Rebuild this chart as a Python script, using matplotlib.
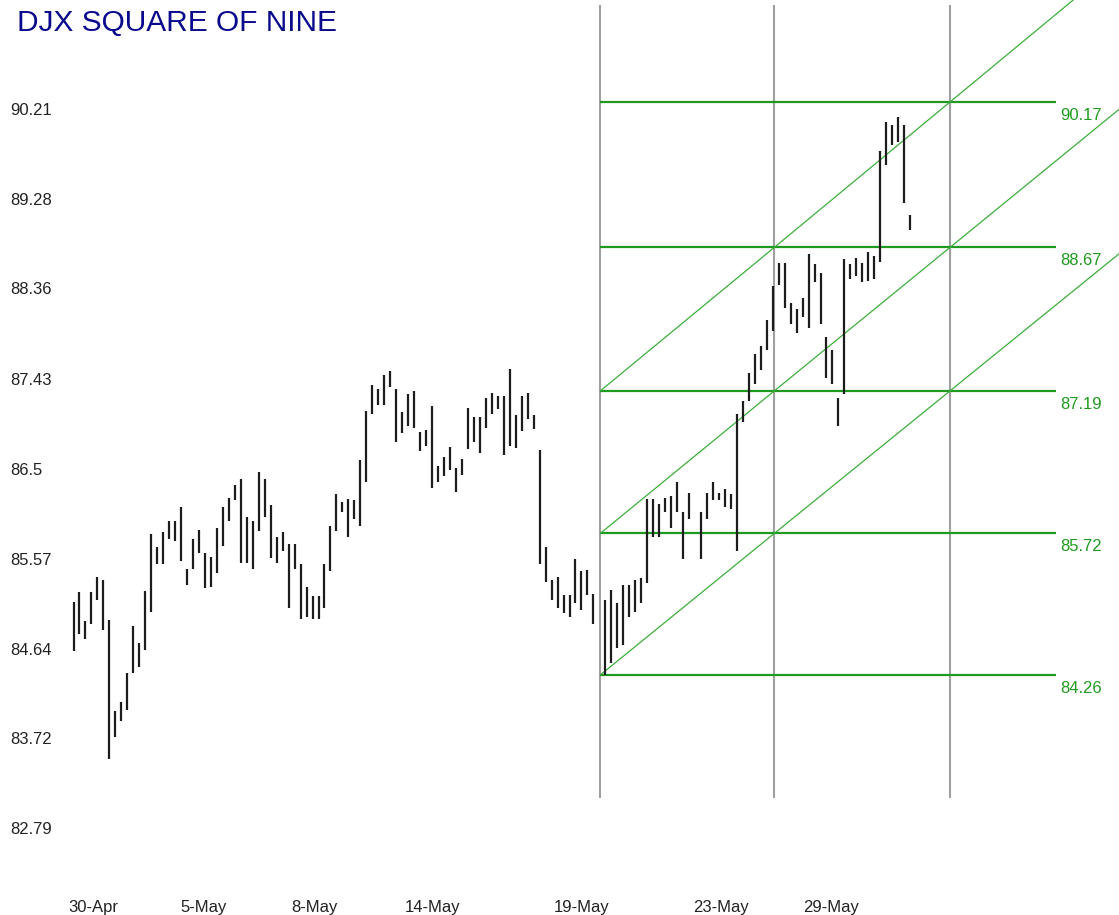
import numpy as np
import matplotlib
matplotlib.use("Agg")
import matplotlib.pyplot as plt
import matplotlib.transforms as mtransforms

plt.rcParams['font.family'] = ['Liberation Sans', 'DejaVu Sans']

# bar highs / lows (nan = no bar drawn)
nan = np.nan
highs = [85.01, 85.12, 84.82, 85.12, 85.27, 85.24, 84.83, 83.89, 83.98, 84.28,
         84.77, 84.59, 85.13, 85.71, 85.58, 85.73, 85.85, 85.85, 85.99, 85.35,
         85.66, 85.76, 85.52, 85.48, 85.78, 85.99, 86.09, 86.22, 86.28, 85.89,
         85.85, 86.35, 86.28, 86.01, 85.68, 85.73, 85.61, 85.61, 85.40, 85.17,
         85.07, 85.07, 85.40, 85.80, 86.13, 86.04, 86.08, 86.06, 86.48, 86.98,
         87.25, 87.21, 87.35, 87.40, 87.21, 86.97, 87.16, 87.19, 86.77, 86.79,
         87.03, 86.42, 86.51, 86.61, 86.39, 86.49, 87.01, 86.92, 86.92, 87.12,
         87.17, 87.14, 87.14, 87.42, 86.94, 87.14, 87.17, 86.94, 86.58, 85.58,
         85.24, 85.27, 85.08, 85.08, 85.46, 85.33, 85.34, 85.10, nan, 85.03,
         85.14, 85.00, 85.19, 85.19, 85.24, 85.26, 86.08, 86.08, 86.02, 86.09,
         86.11, 86.25, 85.94, 86.14, nan, 85.94, 86.14, 86.25, 86.14, 86.18,
         86.13, 86.95, 87.09, 87.37, 87.57, 87.65, 87.92, 88.27, 88.51, 88.51,
         88.10, 88.03, 88.15, 88.60, 88.50, 88.41, 87.75, 87.61, 87.12, 88.55,
         88.50, 88.56, 88.51, 88.62, 88.58, 89.66, 89.96, 89.93, 90.02, 89.93,
         89.00]
lows = [84.51, 84.68, 84.63, 84.79, 85.03, 84.72, 83.39, 83.62, 83.78, 83.90,
        84.28, 84.34, 84.52, 84.91, 85.40, 85.40, 85.66, 85.64, 85.44, 85.19,
        85.35, 85.52, 85.16, 85.17, 85.31, 85.59, 85.85, 86.06, 85.41, 85.41,
        85.35, 85.75, 85.89, 85.47, 85.41, 85.54, 84.95, 85.35, 84.84, 84.86,
        84.84, 84.84, 84.95, 85.33, 85.75, 85.94, 85.68, 85.87, 85.80, 86.25,
        86.95, 87.04, 87.04, 87.23, 86.66, 86.76, 86.83, 86.81, 86.57, 86.62,
        86.19, 86.25, 86.31, 86.37, 86.15, 86.32, 86.59, 86.66, 86.55, 86.81,
        86.95, 87.00, 86.53, 86.62, 86.60, 86.78, 86.90, 86.80, 85.40, 85.22,
        85.03, 84.95, 84.90, 84.86, 85.00, 84.93, 85.08, 84.79, nan, 84.26,
        84.38, 84.54, 84.57, 84.86, 84.91, 85.00, 85.21, 85.68, 85.68, 85.94,
        85.78, 85.94, 85.46, 85.87, nan, 85.46, 85.87, 86.06, 86.06, 85.99,
        85.97, 85.54, 86.87, 87.09, 87.26, 87.41, 87.61, 87.81, 88.28, 88.05,
        87.88, 87.79, 87.95, 87.84, 88.31, 87.88, 87.32, 87.26, 86.83, 87.16,
        88.34, 88.38, 88.31, 88.32, 88.34, 88.52, 89.52, 89.73, 89.76, 89.13,
        88.85]

# square of nine price levels and time cycles (in bar units)
levels = [84.26, 85.72, 87.19, 88.67, 90.17]
cycle_bars = [88.15, 117.27, 146.67]
level_end = 164.4

price_ticks = [90.21, 89.28, 88.36, 87.43, 86.5, 85.57, 84.64, 83.72, 82.79]
date_labels = ['30-Apr', '5-May', '8-May', '14-May', '19-May', '23-May', '29-May']
date_pos = [3.3, 21.7, 40.4, 60.1, 85.0, 108.3, 126.7]

fig = plt.figure(figsize=(11.19, 9.15), dpi=100)
ax = fig.add_axes([0, 0, 1, 1])
ax.set_xlim(-12.30, 174.95)
ax.set_ylim(81.784, 91.222)
ax.axis('off')

green = '#1f9a1f'
light_green = '#3cae3c'

# time cycle verticals
ax.vlines(cycle_bars, 82.99, 91.17, color='#a0a0a0', lw=1.5, zorder=1)

# horizontal levels
ax.hlines(levels, cycle_bars[0], level_end, color=green, lw=1.6, zorder=2)

# diagonals through the grid corners, extended to the right edge
for j in range(3):
    ys = []
    for k in range(3):
        if j + k < len(levels):
            ys.append(levels[j + k])
    xs = list(cycle_bars[:len(ys)])
    slope = (ys[-1] - ys[-2]) / (xs[-1] - xs[-2])
    x_end = 174.95
    ys.append(ys[-1] + slope * (x_end - xs[-1]))
    xs.append(x_end)
    ax.plot(xs, ys, color=light_green, lw=0.9, zorder=2)

# high-low bars
idx = np.arange(len(highs))
ax.vlines(idx, lows, highs, color='#1c1c1c', lw=1.6, zorder=3)

# price scale on the left
off_left = mtransforms.offset_copy(ax.transData, fig=fig, x=0, y=-5, units='dots')
for p in price_ticks:
    ax.text(-10.6, p, str(p), transform=off_left, ha='left', va='top',
            fontsize=12, color='#222222')

# level labels on the right
off_right = mtransforms.offset_copy(ax.transData, fig=fig, x=0, y=-6, units='dots')
for lv in levels:
    ax.text(165.2, lv, '%.2f' % lv, transform=off_right, ha='left', va='top',
            fontsize=12, color=green)

# date labels along the bottom
trans = mtransforms.blended_transform_factory(ax.transData, ax.transAxes)
for pos, lab in zip(date_pos, date_labels):
    ax.text(pos, 0.0035, lab, transform=trans, ha='center', va='baseline',
            fontsize=12, color='#222222')

fig.text(17 / 1119, 1 - 23 / 915, 'DJX SQUARE OF NINE', ha='left', va='center',
         fontsize=21.5, color='#0a0a8c')

fig.savefig('out.png', dpi=100)
